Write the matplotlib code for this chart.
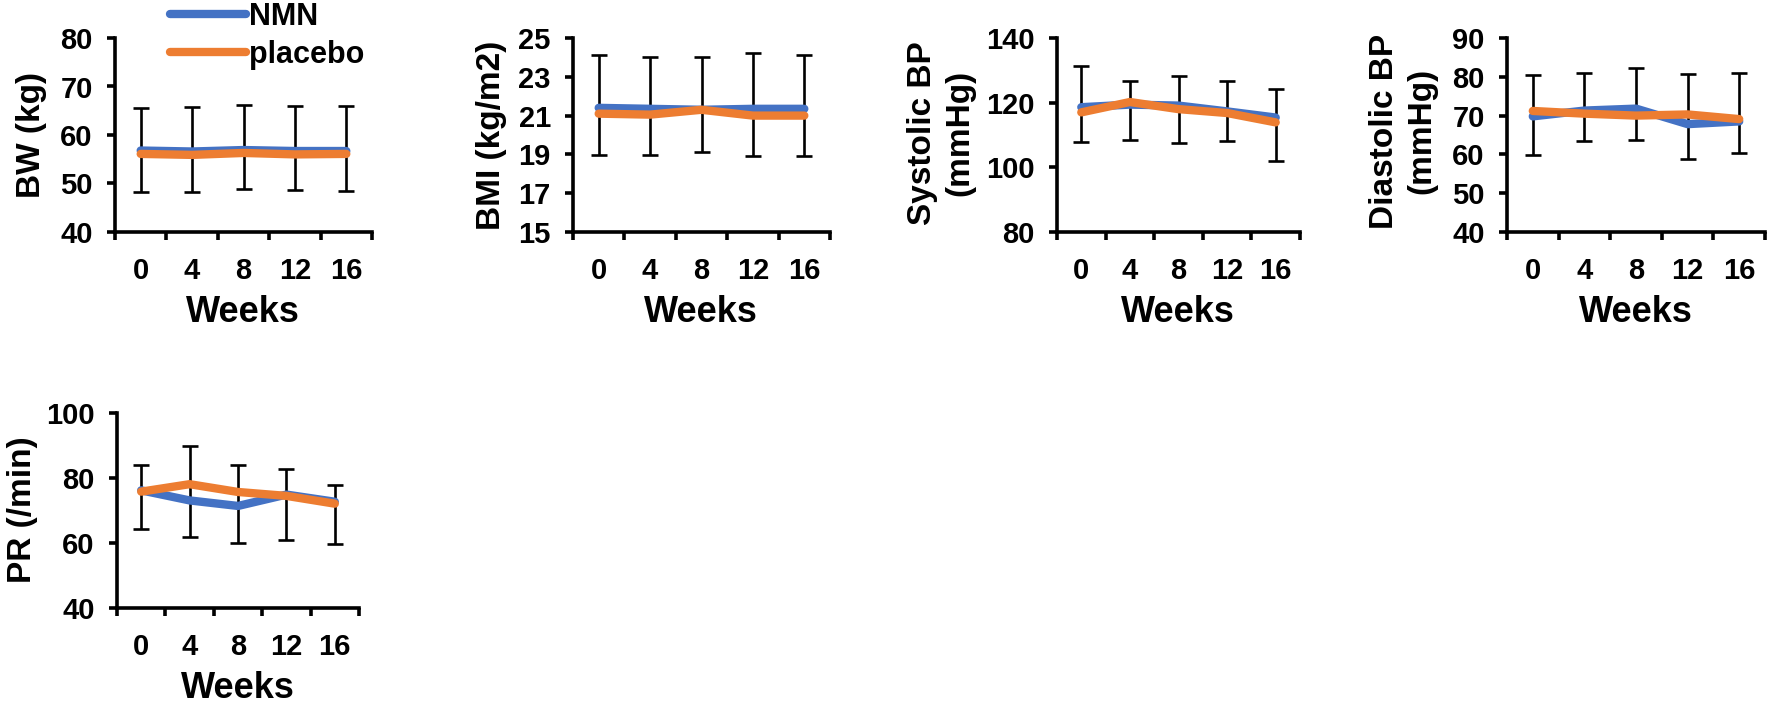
import numpy as np
import matplotlib
matplotlib.use('Agg')
import matplotlib.pyplot as plt

plt.rcParams['font.family'] = ['Liberation Sans', 'DejaVu Sans']
plt.rcParams['font.weight'] = 'bold'

weeks = ['0', '4', '8', '12', '16']

# BW (kg)
bw_nmn = [56.8, 56.6, 56.9, 56.7, 56.7]
bw_pla = [56.1, 55.9, 56.3, 56.0, 56.1]
bw_lo = [48.2, 48.3, 48.8, 48.6, 48.4]
bw_hi = [65.6, 65.8, 66.1, 66.0, 66.0]

# BMI (kg/m2)
bmi_nmn = [21.4, 21.35, 21.3, 21.35, 21.35]
bmi_pla = [21.1, 21.05, 21.3, 21.0, 21.0]
bmi_lo = [18.96, 18.96, 19.14, 18.92, 18.92]
bmi_hi = [24.11, 24.02, 24.02, 24.25, 24.11]

# Systolic BP (mmHg)
sbp_nmn = [118.6, 119.4, 119.1, 117.3, 115.4]
sbp_pla = [117.0, 120.2, 118.0, 116.8, 113.9]
sbp_lo = [107.8, 108.5, 107.4, 108.2, 102.0]
sbp_hi = [131.2, 126.8, 128.3, 126.7, 124.2]

# Diastolic BP (mmHg)
dbp_nmn = [69.8, 71.3, 71.8, 67.8, 68.5]
dbp_pla = [71.2, 70.5, 70.0, 70.3, 69.1]
dbp_lo = [59.9, 63.4, 63.6, 58.9, 60.4]
dbp_hi = [80.5, 81.0, 82.2, 80.8, 81.0]

# PR (/min)
pr_nmn = [76.2, 73.1, 71.4, 74.9, 72.7]
pr_pla = [75.8, 78.1, 75.7, 74.5, 72.1]
pr_lo = [64.4, 62.0, 60.0, 60.8, 59.7]
pr_hi = [84.0, 89.7, 84.0, 82.7, 77.8]

W, H = 1772, 706
blue = '#4472C4'
orange = '#ED7D31'

fig = plt.figure(figsize=(W/100, H/100), dpi=100)

def make_ax(l, r, t, b):
    return fig.add_axes([l/W, 1 - b/H, (r - l)/W, (b - t)/H])

def panel(ax, nmn, pla, lo, hi, yticks):
    x = np.arange(len(weeks)) + 0.5
    nmn = np.array(nmn)
    yerr = [nmn - np.array(lo), np.array(hi) - nmn]
    ax.errorbar(x, nmn, yerr=yerr, fmt='none', ecolor='black', elinewidth=1.9,
                capsize=5.5, capthick=1.9, zorder=1)
    ax.plot(x, nmn, color=blue, lw=6, solid_capstyle='round', zorder=2, label='NMN')
    ax.plot(x, pla, color=orange, lw=6, solid_capstyle='round', zorder=3, label='placebo')
    ax.set_xlim(0, len(weeks))
    ax.set_ylim(yticks[0], yticks[-1])
    ax.set_yticks(yticks)
    ax.set_xticks(np.arange(len(weeks) + 1))
    ax.set_xticklabels([])
    ax.set_xticks(x, minor=True)
    ax.set_xticklabels(weeks, minor=True)
    for s in ['top', 'right']:
        ax.spines[s].set_visible(False)
    for s in ['left', 'bottom']:
        ax.spines[s].set_linewidth(2.6)
    ax.tick_params(axis='x', which='major', length=6, width=2.6, direction='out')
    ax.tick_params(axis='x', which='minor', length=0, pad=18, labelsize=21)
    ax.tick_params(axis='y', length=6, width=2.6, pad=10, labelsize=21)
    ax.set_facecolor('none')

def xlabel(cx, cy):
    fig.text(cx/W, 1 - cy/H, 'Weeks', ha='center', va='center', fontsize=26, fontweight='bold')

def ylabel(cx, cy, txt):
    fig.text(cx/W, 1 - cy/H, txt, ha='center', va='center', rotation=90,
             fontsize=24, fontweight='bold', multialignment='center', linespacing=1.25)

ax1 = make_ax(115, 372, 38, 232)
panel(ax1, bw_nmn, bw_pla, bw_lo, bw_hi, [40, 50, 60, 70, 80])
ylabel(32, 135, 'BW (kg)')
xlabel(243, 312)

ax2 = make_ax(573, 830, 38, 232)
panel(ax2, bmi_nmn, bmi_pla, bmi_lo, bmi_hi, [15, 17, 19, 21, 23, 25])
ylabel(492, 135, 'BMI (kg/m2)')
xlabel(701, 312)

ax3 = make_ax(1057, 1300, 38, 232)
panel(ax3, sbp_nmn, sbp_pla, sbp_lo, sbp_hi, [80, 100, 120, 140])
ylabel(941, 133, 'Systolic BP\n(mmHg)')
xlabel(1178, 312)

ax4 = make_ax(1507, 1765, 38, 232)
panel(ax4, dbp_nmn, dbp_pla, dbp_lo, dbp_hi, [40, 50, 60, 70, 80, 90])
ylabel(1403, 131, 'Diastolic BP\n(mmHg)')
xlabel(1636, 312)

ax5 = make_ax(117, 359, 413, 608)
panel(ax5, pr_nmn, pr_pla, pr_lo, pr_hi, [40, 60, 80, 100])
ylabel(23, 510, 'PR (/min)')
xlabel(238, 689)

h, l = ax1.get_legend_handles_labels()
fig.legend(h, l, loc='upper left', bbox_to_anchor=(170/W, 1 - 2/H), frameon=False,
           fontsize=22, handlelength=2.5, handletextpad=0.1, labelspacing=0.25,
           borderpad=0, borderaxespad=0)

fig.savefig('out.png', dpi=100)
